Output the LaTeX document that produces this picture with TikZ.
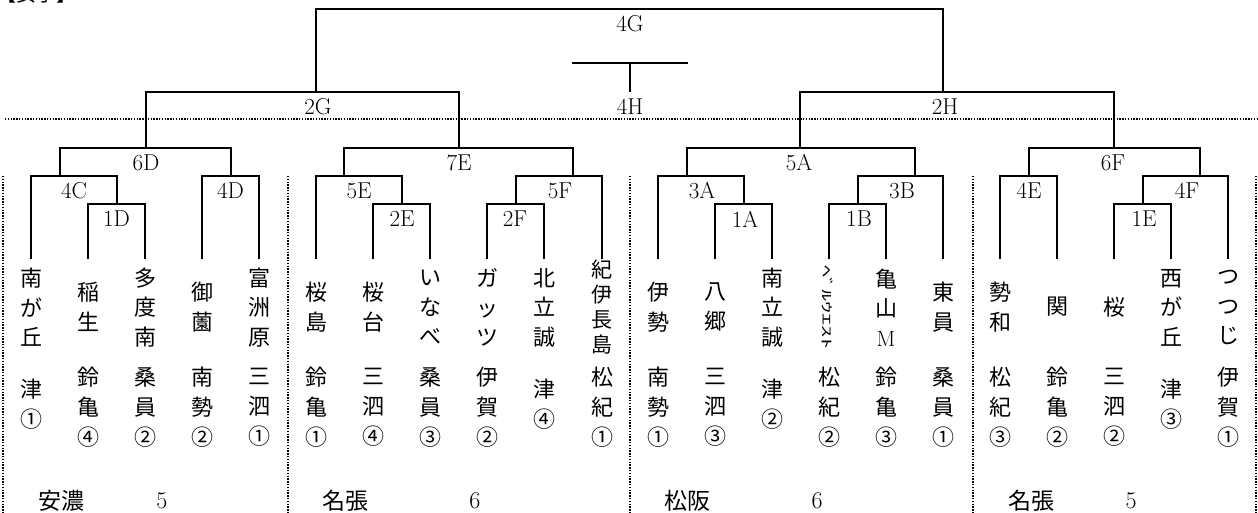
\documentclass[tikz,border=0pt]{standalone}
\usepackage{fontspec}
\usepackage{graphicx}
\newfontfamily\jp{Noto Sans CJK JP}
\begin{document}
\begin{tikzpicture}[x=1pt,y=-1pt,
  br/.style={line width=2pt},
  dotline/.style={line width=1.6pt,dash pattern=on 1.4pt off 1.4pt},
  lab/.style={font=\fontsize{23}{23}\selectfont,inner sep=0pt},
  nm/.style={font=\jp\fontsize{22}{29.5}\selectfont,align=center,inner sep=0pt},
  nmk/.style={font=\jp\fontsize{21}{25}\selectfont,align=center,inner sep=0pt},
  nmb/.style={font=\jp\fontsize{22}{30}\selectfont,align=center,inner sep=0pt},
  area/.style={font=\jp\fontsize{23}{23}\selectfont,inner sep=0pt},
  num/.style={font=\fontsize{24}{24}\selectfont,inner sep=0pt}]
\useasboundingbox (0,0) rectangle (1258,513);
\fill[white] (0,0) rectangle (1258,513);

% heading (cut off at top, as in the reference)
\node[font=\jp\fontsize{20}{20}\selectfont,anchor=base west,inner sep=0pt] (head) at (-4,2) {【女子】};

% dotted separators
\coordinate (dl) at (5,119); \coordinate (dr) at (1258,119);
\draw[dotline] (dl) -- (dr);
\foreach \x in {3,288,630,973,1256} \draw[dotline] (\x,176) -- (\x,513);

% team stub bottoms
\foreach \n/\x in {A1/31,A2/88,A3/145,A4/202,A5/259,
                   B1/316,B2/373,B3/430,B4/487,B5/544,B6/602,
                   C1/658,C2/715,C3/772,C4/829,C5/886,C6/943,
                   D1/1000,D2/1057,D3/1114,D4/1171,D5/1228}
  \coordinate (\n) at (\x,259);

% block 1
\coordinate (m1D) at (116.5,204);
\coordinate (m4C) at (74,176);
\coordinate (p4C) at (60,176);
\coordinate (m4D) at (230.5,176);
\coordinate (m6D) at (145.5,148);
\draw[br] (A2) |- (m1D) -| (A3);
\draw[br] (A1) |- (m4C) -| (m1D);
\draw[br] (A4) |- (m4D) -| (A5);
\draw[br] (p4C) |- (m6D) -| (m4D);
\node[lab] (l1D) at (116.5,219) {1D};
\node[lab] (l4C) at (74,191) {4C};
\node[lab] (l4D) at (230.5,191) {4D};
\node[lab] (l6D) at (146,163) {6D};

% block 2
\coordinate (m2E) at (401.5,204);
\coordinate (m5E) at (359,176);
\coordinate (p5E) at (344,176);
\coordinate (m2F) at (515.5,204);
\coordinate (m5F) at (559,176);
\coordinate (p5F) at (573,176);
\coordinate (m7E) at (459,148);
\draw[br] (B2) |- (m2E) -| (B3);
\draw[br] (B1) |- (m5E) -| (m2E);
\draw[br] (B4) |- (m2F) -| (B5);
\draw[br] (m2F) |- (m5F) -| (B6);
\draw[br] (p5E) |- (m7E) -| (p5F);
\node[lab] (l2E) at (402,219) {2E};
\node[lab] (l5E) at (359,191) {5E};
\node[lab] (l2F) at (515,219) {2F};
\node[lab] (l5F) at (560,191) {5F};
\node[lab] (l7E) at (459,163) {7E};

% block 3
\coordinate (m1A) at (743.5,204);
\coordinate (m3A) at (701,176);
\coordinate (p3A) at (687,176);
\coordinate (m1B) at (857.5,204);
\coordinate (m3B) at (900.5,176);
\coordinate (p3B) at (915,176);
\coordinate (m5A) at (800,148);
\draw[br] (C2) |- (m1A) -| (C3);
\draw[br] (C1) |- (m3A) -| (m1A);
\draw[br] (C4) |- (m1B) -| (C5);
\draw[br] (m1B) |- (m3B) -| (C6);
\draw[br] (p3A) |- (m5A) -| (p3B);
\node[lab] (l1A) at (745,219) {1A};
\node[lab] (l3A) at (702,191) {3A};
\node[lab] (l1B) at (859,219) {1B};
\node[lab] (l3B) at (902,191) {3B};
\node[lab] (l5A) at (799,163) {5A};

% block 4
\coordinate (m4E) at (1028.5,176);
\coordinate (m1E) at (1142.5,204);
\coordinate (m4F) at (1185.5,176);
\coordinate (p4F) at (1200,176);
\coordinate (m6F) at (1114,148);
\draw[br] (D1) |- (m4E) -| (D2);
\draw[br] (D3) |- (m1E) -| (D4);
\draw[br] (m1E) |- (m4F) -| (D5);
\draw[br] (m4E) |- (m6F) -| (p4F);
\node[lab] (l4E) at (1029,191) {4E};
\node[lab] (l1E) at (1144,219) {1E};
\node[lab] (l4F) at (1187,191) {4F};
\node[lab] (l6F) at (1113,163) {6F};

% upper rounds
\coordinate (m2G) at (316,91.7);
\coordinate (m2H) at (943,91.7);
\coordinate (m4G) at (630,9);
\draw[br] (m6D) |- (m2G) -| (m7E);
\draw[br] (m5A) |- (m2H) -| (m6F);
\draw[br] (m2G) |- (m4G) -| (m2H);
\node[lab] (l2G) at (318,107) {2G};
\node[lab] (l2H) at (945,107) {2H};
\node[lab] (l4G) at (630,24) {4G};
\coordinate (h1) at (572,63); \coordinate (h2) at (688,63);
\coordinate (m4H) at (630,63); \coordinate (b4H) at (630,92);
\draw[br] (h1) -- (h2);
\draw[br] (m4H) -- (b4H);
\node[lab] (l4H) at (630,107) {4H};

% team names
\node[nm] (n1) at (31,307.5) {南\\が\\丘};
\node[nm] (n2) at (88,307) {稲\\生};
\node[nm] (n3) at (145,307.5) {多\\度\\南};
\node[nm] (n4) at (202,307) {御\\薗};
\node[nm] (n5) at (259,307.5) {富\\洲\\原};
\node[nm] (n6) at (316,307) {桜\\島};
\node[nm] (n7) at (373,307) {桜\\台};
\node[nm] (n8) at (430,307.5) {い\\な\\べ};
\node[nm] (n9) at (487,307.5) {ガ\\ッ\\ツ};
\node[nm] (n10) at (544,307.5) {北\\立\\誠};
\node[nmk] (n11) at (602,307.5) {紀\\伊\\長\\島};
\node[nm] (n12) at (658,307) {伊\\勢};
\node[nm] (n13) at (715,307) {八\\郷};
\node[nm] (n14) at (772,307.5) {南\\立\\誠};
\node[inner sep=0pt] (n15) at (828,307.5) {\resizebox*{11pt}{85pt}{\rotatebox{-90}{\jp\fontsize{20}{20}\selectfont ﾍﾞﾙｳｴｽﾄ}}};
\node[nm] (n16) at (886,307.5) {亀\\山\\{\rmfamily M}};
\node[nm] (n17) at (943,307) {東\\員};
\node[nm] (n18) at (1000,307) {勢\\和};
\node[nm] (n19) at (1057,307) {関};
\node[nm] (n20) at (1114,307) {桜};
\node[nm] (n21) at (1171,307.5) {西\\が\\丘};
\node[nm] (n22) at (1228,307.5) {つ\\つ\\じ};

% districts
\node[nmb] (s1) at (31,404.5) {津\\①};
\node[nmb] (s2) at (88,407.5) {鈴\\亀\\④};
\node[nmb] (s3) at (145,407.5) {桑\\員\\②};
\node[nmb] (s4) at (202,407.5) {南\\勢\\②};
\node[nmb] (s5) at (259,407.5) {三\\泗\\①};
\node[nmb] (s6) at (316,407.5) {鈴\\亀\\①};
\node[nmb] (s7) at (373,407.5) {三\\泗\\④};
\node[nmb] (s8) at (430,407.5) {桑\\員\\③};
\node[nmb] (s9) at (487,407.5) {伊\\賀\\②};
\node[nmb] (s10) at (544,404.5) {津\\④};
\node[nmb] (s11) at (602,407.5) {松\\紀\\①};
\node[nmb] (s12) at (658,407.5) {南\\勢\\①};
\node[nmb] (s13) at (715,407.5) {三\\泗\\③};
\node[nmb] (s14) at (772,404.5) {津\\②};
\node[nmb] (s15) at (829,407.5) {松\\紀\\②};
\node[nmb] (s16) at (886,407.5) {鈴\\亀\\③};
\node[nmb] (s17) at (943,407.5) {桑\\員\\①};
\node[nmb] (s18) at (1000,407.5) {松\\紀\\③};
\node[nmb] (s19) at (1057,407.5) {鈴\\亀\\②};
\node[nmb] (s20) at (1114,407.5) {三\\泗\\②};
\node[nmb] (s21) at (1171,404.5) {津\\③};
\node[nmb] (s22) at (1228,407.5) {伊\\賀\\①};

% venues
\node[area] (v1) at (61,501) {安濃};
\node[num] (c1) at (162,501) {5};
\node[area] (v2) at (345,501) {名張};
\node[num] (c2) at (475,501) {6};
\node[area] (v3) at (687,501) {松阪};
\node[num] (c3) at (817,501) {6};
\node[area] (v4) at (1031,501) {名張};
\node[num] (c4) at (1131,501) {5};
\end{tikzpicture}
\end{document}
